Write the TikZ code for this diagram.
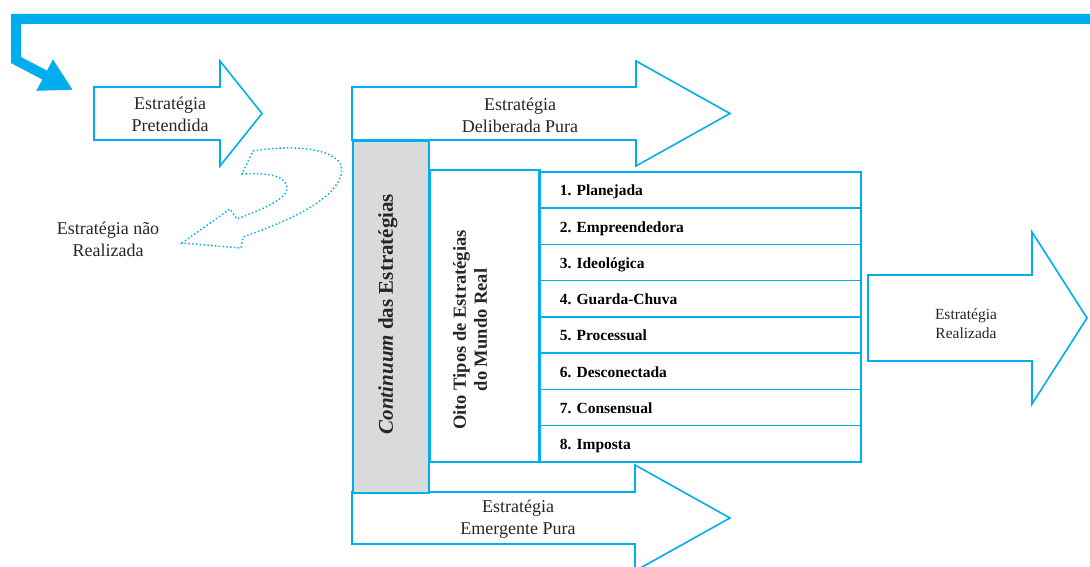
\documentclass[tikz,border=0pt]{standalone}
\usepackage{fontspec}
\setmainfont{Liberation Serif}
\usetikzlibrary{arrows.meta}
\definecolor{cyanline}{RGB}{0,174,239}
\definecolor{grayfill}{RGB}{217,218,220}
\tikzset{
  outline/.style={draw=cyanline, line width=1.6pt},
  arrowtext/.style={align=center, text=black!85, font=\fontsize{18}{22}\selectfont},
  rowbox/.style={outline, anchor=north west, minimum width=322pt, minimum height=36.25pt,
    inner xsep=21pt, text width=280pt, text height=15pt, text depth=3pt, align=left,
    font=\bfseries\fontsize{15.5}{17}\selectfont},
}
% block arrow: left x, mid y, half body, head x, half head, tip x
\newcommand{\blockarrow}[6]{%
  \draw[outline, line join=miter] (#1,#2-#3) -- (#4,#2-#3) -- (#4,#2-#5) -- (#6,#2)
    -- (#4,#2+#5) -- (#4,#2+#3) -- (#1,#2+#3) -- cycle;}
\begin{document}
\begin{tikzpicture}[x=1pt,y=-1pt]
  \useasboundingbox (0,0) rectangle (1090,567);
  \clip (0,0) rectangle (1090,567);

  % feedback arrow
  \coordinate (topright) at (1095,19);
  \coordinate (loopin) at (73,90);
  \draw[cyanline, line width=10pt, -{Triangle[length=32pt,width=33pt]}]
    (topright) -| (16,60) -- (loopin);

  % block arrows
  \blockarrow{94}{113.5}{26.5}{220}{52.5}{262}
  \blockarrow{352}{113.5}{26.5}{636}{52.5}{730}
  \blockarrow{352}{518}{26}{635}{53}{730}
  \blockarrow{868}{318}{43}{1032}{86}{1087}
  \node[arrowtext] (pretendida) at (170,114) {Estratégia\\Pretendida};
  \node[arrowtext] (deliberada) at (520,115) {Estratégia\\Deliberada Pura};
  \node[arrowtext] (emergente) at (518,519) {Estratégia\\Emergente Pura};
  \node[arrowtext, font=\fontsize{15.5}{19}\selectfont] (realizada) at (966,324)
    {Estratégia\\Realizada};

  % unrealized strategy
  \draw[cyanline, line width=1.5pt, dash pattern=on 1.4pt off 2.4pt]
    (253,151) .. controls (300,143) and (352,150) .. (340,178)
    .. controls (330,203) and (285,222) .. (243,237) -- (241,248) -- (182,243)
    -- (230,209) -- (237,219) .. controls (265,208) and (297,196) .. (284,181)
    .. controls (278,174) and (260,173) .. (242,174) -- cycle;
  \node[arrowtext] (naorealizada) at (108,239) {Estratégia não\\Realizada};

  % continuum
  \node[outline, fill=grayfill, anchor=north west, minimum width=76pt,
    minimum height=352pt, inner sep=0pt] (continuum) at (352,140) {};
  \node[rotate=90, text=black!85, font=\bfseries\fontsize{21}{25}\selectfont]
    (contlabel) at (388,314) {\textit{Continuum} das Estratégias};

  % eight types
  \node[outline, anchor=north west, minimum width=110pt, minimum height=292pt,
    inner sep=0pt] (oito) at (429,169) {};
  \node[rotate=90, align=center, text=black!85,
    font=\bfseries\fontsize{18.5}{21}\selectfont] (oitolabel) at (470,330)
    {Oito Tipos de Estratégias\\do Mundo Real};
  \foreach \i/\lbl in {1/Planejada, 2/Empreendedora, 3/Ideológica, 4/Guarda-Chuva,
      5/Processual, 6/Desconectada, 7/Consensual, 8/Imposta}
    \node[rowbox] (row\i) at (538,{171+36.25*(\i-1)}) {\i.\ \lbl};
\end{tikzpicture}
\end{document}
